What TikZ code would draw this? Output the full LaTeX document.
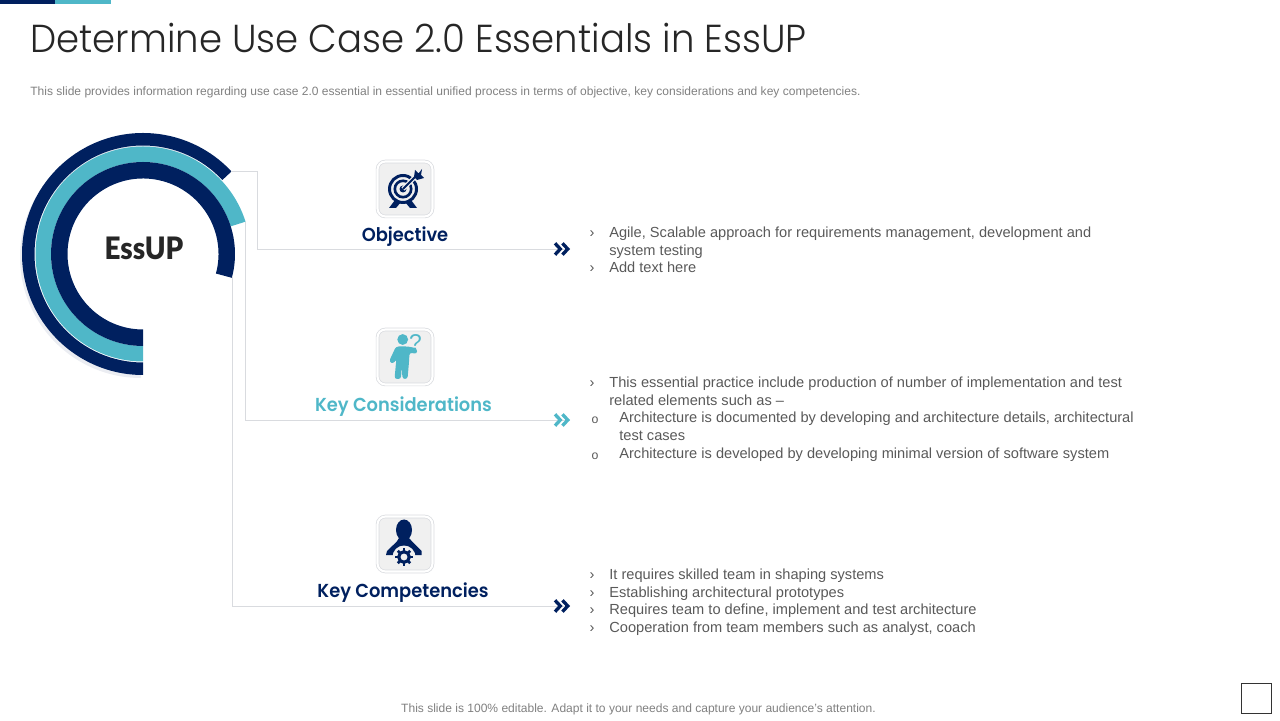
\documentclass[tikz,border=0pt]{standalone}
\usepackage{fontspec}
\setmainfont{Liberation Sans}
\newfontfamily\titlefont{Poppins Light}[FakeStretch=0.95]
\newfontfamily\headfont{Poppins SemiBold}[FakeStretch=0.95]
\newfontfamily\ringfont{Lato Black}[FakeStretch=0.9]
\usetikzlibrary{arrows.meta}
\definecolor{navyblue}{HTML}{00205F}
\definecolor{tealblue}{HTML}{4FB7C8}
\definecolor{linegray}{HTML}{D9DBDF}
\definecolor{boxgray}{HTML}{F0F0F0}
\definecolor{bodygray}{HTML}{595959}
\tikzset{
  linkline/.style={draw=linegray, line width=0.55pt},
  chevrons/.style={-{Straight Barb[length=3pt,width=6.5pt,line width=1.9pt,sep=-1pt,color=#1]Straight Barb[length=3pt,width=6.5pt,line width=1.9pt,color=#1]}},
  iconbox/.style={draw=linegray, line width=0.4pt, double=white, double distance=1.2pt, fill=boxgray,
    rounded corners=4.5pt, minimum size=1.1cm, inner sep=0pt},
  headline/.style={anchor=base, font=\headfont\fontsize{10.7}{14}\selectfont},
  bodyline/.style={anchor=base west, inner sep=0pt, text=bodygray, font=\fontsize{8.32}{10}\selectfont},
  bulletmark/.style={anchor=base, inner sep=0pt, text=bodygray, font=\fontsize{8.32}{10}\selectfont},
  circlemark/.style={anchor=base, inner sep=0pt, text=bodygray, font=\fontsize{7}{10}\selectfont},
  noteline/.style={inner sep=0pt, text=gray, font=\fontsize{6.85}{8}\selectfont}
}
\begin{document}
\begin{tikzpicture}[x=0.02cm, y=0.02cm]
  \useasboundingbox (0,0) rectangle (1280,720);

  % top bars
  \fill[navyblue] (0,716) rectangle (55,720);
  \fill[tealblue] (55,716) rectangle (111,720);

  % title and notes
  \node[anchor=base west, inner sep=0pt, text=black!85, font=\titlefont\fontsize{22.2}{26}\selectfont] (title) at (30,667) {Determine Use Case 2.0 Essentials in EssUP};
  \node[noteline, anchor=west] (subtitle) at (30,628) {This slide provides information regarding use case 2.0 essential in essential unified process in terms of objective, key considerations and key competencies.};
  \node[noteline] (footer) at (638.5,10.5) {This slide is 100\% editable. Adapt it to your needs and capture your audience's attention.};
  \node[draw=black!80, line width=0.5pt, minimum size=0.6cm, inner sep=0pt] (corner) at (1256,22) {};

  % ring: soft shadow first, then the three bands
  \fill[navyblue!8] (141,463) ++(-90:121) arc[start angle=-90, end angle=-300, radius=121]
    -- ++(-300:-13) arc[start angle=-300, end angle=-90, radius=108] -- cycle;
  \fill[white] (143.5,200) rectangle (200,350);
  \foreach \rout/\rin/\aend/\col in {121/108.5/-317/navyblue, 107.5/92/-342.5/tealblue, 92/75.5/-375/navyblue} {
    \fill[\col] (143,466) ++(-90:\rout) arc[start angle=-90, end angle=\aend, radius=\rout]
      -- ++(\aend:\rin-\rout) arc[start angle=\aend, end angle=-90, radius=\rin] -- cycle;
  }
  \node[text=black!85, inner sep=0pt, font=\ringfont\fontsize{17.6}{20}\selectfont] (ringname) at (144,472) {EssUP};

  % connector ends
  \coordinate (ringA) at (231,549);
  \coordinate (ringB) at (245,498);
  \coordinate (ringC) at (232,444);
  \coordinate (arrowA) at (570,471);
  \coordinate (arrowB) at (570,300);
  \coordinate (arrowC) at (570,114);

  \draw[linkline] (ringA) -- ++(26,0) |- (arrowA);
  \draw[linkline] (ringB) |- (arrowB);
  \draw[linkline] (ringC) |- (arrowC);
  \draw[linkline, chevrons=navyblue] (540,471) -- (arrowA);
  \draw[linkline, chevrons=tealblue] (540,300) -- (arrowB);
  \draw[linkline, chevrons=navyblue] (540,114) -- (arrowC);

  % icon boxes
  \node[iconbox] (boxA) at (405,531) {};
  \node[iconbox] (boxB) at (405,363) {};
  \node[iconbox] (boxC) at (405,176) {};

  % target
  \begin{scope}[shift={(boxA.center)}, navyblue]
    \draw[line width=1.7pt] (-2,0) circle (13.5);
    \draw[line width=1.5pt] (-2,0) circle (8.2);
    \fill (-2,0) circle (3.5);
    \draw[boxgray, line width=2.6pt] (-2,0) -- (12,14);
    \draw[line width=1.1pt] (-2,0) -- (12,14);
    \fill (9,12) -- (10,19) -- (13.5,15.5) -- (17,20) -- (16,14) -- (19,11) -- (12,9) -- cycle;
    \fill (-10,-11) -- (-4,-13) -- (-9,-19) -- (-16,-19) -- cycle;
    \fill (6,-11) -- (0,-13) -- (5,-19) -- (12,-19) -- cycle;
  \end{scope}

  % person asking
  \begin{scope}[shift={(boxB.center)}, tealblue]
    \fill (-2.3,17.5) circle (5.4);
    \fill[rounded corners=1.5pt] (-9,10.5) -- (3.5,10.5) -- (12,8.5) -- (12,3) -- (4.5,4.5) -- (4,-5) -- (2.5,-22) -- (-2.5,-22)
      -- (-3.3,-9) -- (-4,-22) -- (-10.5,-22) -- (-9,-6) -- (-8.5,-2) -- (-12,-7) -- (-16,-4.5) -- cycle;
    \node[inner sep=0pt, text=tealblue, font=\fontsize{13}{14}\selectfont] (asking) at (10.5,14.5) {?};
  \end{scope}

  % person with gear
  \begin{scope}[shift={(boxC.center)}, navyblue]
    \fill (-1,14) ellipse (8 and 10.5);
    \fill (-6,6) -- (4,6) -- (7.3,2.3) -- (16.7,-7) -- (16.7,-11) -- (-19,-11) -- (-18,-7) -- (-8.3,2.3) -- cycle;
    \fill[boxgray] (-1,-13) circle (11.5);
    \foreach \ang in {0,45,...,315} {
      \draw[line width=1.5pt] (-1,-13) ++(\ang:5.5) -- ++(\ang:3.2);
    }
    \draw[line width=1.8pt] (-1,-13) circle (5.3);
  \end{scope}

  % headings
  \node[headline, text=navyblue] (objective) at (405,478.5) {Objective};
  \node[headline, text=tealblue] (considerations) at (403.5,308.5) {Key Considerations};
  \node[headline, text=navyblue] (competencies) at (403,122.5) {Key Competencies};

  % objective text
  \node[bulletmark] (markA) at (592,482) {›};
  \node[bodyline] (objA) at (609,482) {Agile, Scalable approach for requirements management, development and};
  \node[bodyline] (objB) at (609,464) {system testing};
  \node[bulletmark] (markB) at (592,447) {›};
  \node[bodyline] (objC) at (609,447) {Add text here};

  % considerations text
  \node[bulletmark] (markC) at (592,332) {›};
  \node[bodyline] (conA) at (609,332) {This essential practice include production of number of implementation and test};
  \node[bodyline] (conB) at (609,314) {related elements such as --};
  \node[circlemark] (markD) at (595,296) {o};
  \node[bodyline] (conC) at (619,297) {Architecture is documented by developing and architecture details, architectural};
  \node[bodyline] (conD) at (619,279) {test cases};
  \node[circlemark] (markE) at (595,260) {o};
  \node[bodyline] (conE) at (619,261) {Architecture is developed by developing minimal version of software system};

  % competencies text
  \node[bulletmark] (markF) at (592,141) {›};
  \node[bodyline] (comA) at (609,141) {It requires skilled team in shaping systems};
  \node[bulletmark] (markG) at (592,123) {›};
  \node[bodyline] (comB) at (609,123) {Establishing architectural prototypes};
  \node[bulletmark] (markH) at (592,106) {›};
  \node[bodyline] (comC) at (609,106) {Requires team to define, implement and test architecture};
  \node[bulletmark] (markI) at (592,88) {›};
  \node[bodyline] (comD) at (609,88) {Cooperation from team members such as analyst, coach};
\end{tikzpicture}
\end{document}
